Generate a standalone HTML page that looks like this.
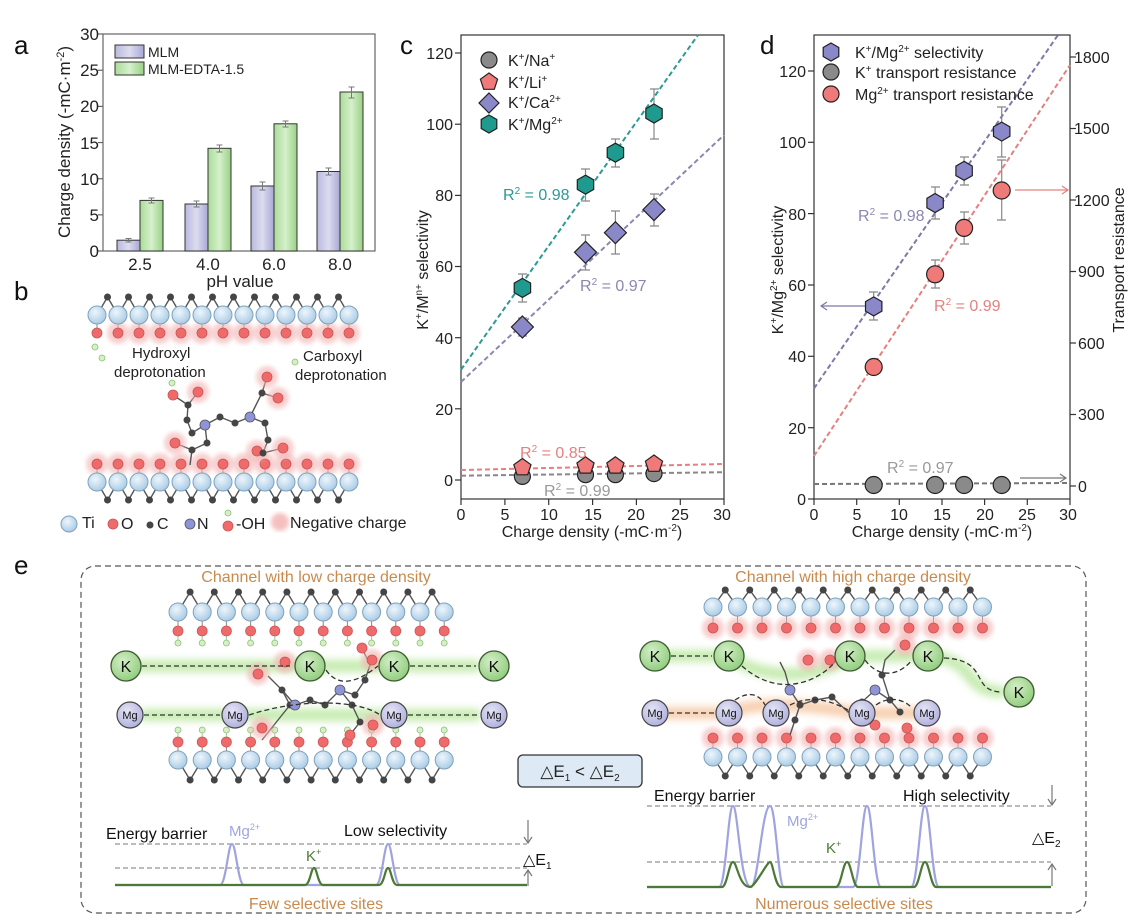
<!DOCTYPE html>
<html><head><meta charset="utf-8">
<style>
html,body{margin:0;padding:0;background:#fff;}
svg{display:block;font-family:"Liberation Sans",Arial,sans-serif;}
.t{font-size:16px;fill:#222}
.tk{font-size:17px;fill:#222}
.lab{font-size:26px;fill:#111}
</style></head>
<body>
<svg id="s" width="1130" height="924" viewBox="0 0 1130 924" xmlns="http://www.w3.org/2000/svg">
<defs>
<linearGradient id="gp" x1="0" x2="1"><stop offset="0" stop-color="#b9b9de"/><stop offset="0.5" stop-color="#dcdcf0"/><stop offset="1" stop-color="#a8a8d4"/></linearGradient>
<linearGradient id="gg" x1="0" x2="1"><stop offset="0" stop-color="#a9dc98"/><stop offset="0.5" stop-color="#d6f0cc"/><stop offset="1" stop-color="#98d184"/></linearGradient>
<radialGradient id="ti" cx="0.4" cy="0.35" r="0.7"><stop offset="0" stop-color="#eef6fc"/><stop offset="1" stop-color="#a6c9e4"/></radialGradient>
<radialGradient id="kg" cx="0.4" cy="0.35" r="0.7"><stop offset="0" stop-color="#d3efc6"/><stop offset="1" stop-color="#8fcb7c"/></radialGradient>
<radialGradient id="mg" cx="0.4" cy="0.35" r="0.7"><stop offset="0" stop-color="#e4e4f6"/><stop offset="1" stop-color="#aeaedc"/></radialGradient>
<filter id="bl" x="-20%" y="-50%" width="140%" height="200%"><feGaussianBlur stdDeviation="4"/></filter>
<filter id="bl2"><feGaussianBlur stdDeviation="2"/></filter>
</defs>

<text class="lab" x="14" y="54">a</text>
<text class="lab" x="14" y="300">b</text>
<text class="lab" x="400" y="54">c</text>
<text class="lab" x="760" y="54">d</text>
<text class="lab" x="14" y="574">e</text>

<!-- ============ PANEL A ============ -->
<g id="pa">
<rect x="103" y="34" width="272" height="217" fill="none" stroke="#666" stroke-width="1.2"/>
<g stroke="#666" stroke-width="1.2">
<line x1="98" y1="251" x2="103" y2="251"/><line x1="98" y1="214.85" x2="103" y2="214.85"/><line x1="98" y1="178.7" x2="103" y2="178.7"/><line x1="98" y1="142.55" x2="103" y2="142.55"/><line x1="98" y1="106.4" x2="103" y2="106.4"/><line x1="98" y1="70.25" x2="103" y2="70.25"/><line x1="98" y1="34" x2="103" y2="34"/>
</g>
<g class="tk" text-anchor="end">
<text x="99" y="257">0</text><text x="99" y="221">5</text><text x="99" y="185">10</text><text x="99" y="149">15</text><text x="99" y="112">20</text><text x="99" y="76">25</text><text x="99" y="40">30</text>
</g>
<g stroke="#333" stroke-width="1">
<rect x="117" y="240.2" width="23" height="10.8" fill="url(#gp)"/>
<rect x="140" y="200.4" width="23" height="50.6" fill="url(#gg)"/>
<rect x="185" y="204" width="23" height="47" fill="url(#gp)"/>
<rect x="208" y="148.3" width="23" height="102.7" fill="url(#gg)"/>
<rect x="251" y="186" width="23" height="65" fill="url(#gp)"/>
<rect x="274" y="123.8" width="23" height="127.2" fill="url(#gg)"/>
<rect x="317" y="171.5" width="23" height="79.5" fill="url(#gp)"/>
<rect x="340" y="92" width="23" height="159" fill="url(#gg)"/>
</g>
<g stroke="#777" stroke-width="1" fill="none">
<path d="M128.5 238.5v3.5M125.5 238.5h6M125.5 242h6"/>
<path d="M151.5 198v5M148.5 198h6M148.5 203h6"/>
<path d="M196.5 201v6M193.5 201h6M193.5 207h6"/>
<path d="M219.5 145v7M216.5 145h6M216.5 152h6"/>
<path d="M262.5 182v8M259.5 182h6M259.5 190h6"/>
<path d="M285.5 121v6M282.5 121h6M282.5 127h6"/>
<path d="M328.5 168v7M325.5 168h6M325.5 175h6"/>
<path d="M351.5 87v11M348.5 87h6M348.5 98h6"/>
</g>
<rect x="115" y="45" width="29" height="13" fill="url(#gp)" stroke="#333"/>
<rect x="115" y="62" width="29" height="13" fill="url(#gg)" stroke="#333"/>
<text x="148" y="57" style="font-size:14px" fill="#222">MLM</text>
<text x="148" y="74" style="font-size:14px" fill="#222">MLM-EDTA-1.5</text>
<g class="tk" text-anchor="middle">
<text x="140" y="270">2.5</text><text x="208" y="270">4.0</text><text x="274" y="270">6.0</text><text x="340" y="270">8.0</text>
<text x="240" y="287">pH value</text>
</g>
<text class="tk" transform="translate(70,142) rotate(-90)" text-anchor="middle">Charge density (-mC·m<tspan dy="-6" font-size="11">-2</tspan><tspan dy="6">)</tspan></text>
</g>

<!-- ============ PANEL B ============ -->
<g id="pb"></g>
<g font-size="15" fill="#222">
<text x="132" y="358">Hydroxyl</text>
<text x="114" y="377">deprotonation</text>
<text x="303" y="361">Carboxyl</text>
<text x="295" y="380">deprotonation</text>
<text x="82" y="528" font-size="16">Ti</text>
<text x="121" y="529" font-size="16">O</text>
<text x="157" y="529" font-size="16">C</text>
<text x="197" y="529" font-size="16">N</text>
<text x="236" y="529" font-size="16">-OH</text>
<text x="290" y="528" font-size="16">Negative charge</text>
</g>

<!-- ============ PANEL C ============ -->
<g id="pc">
<rect x="461" y="35" width="263" height="464" fill="none" stroke="#333" stroke-width="1.2"/>
<g stroke="#333" stroke-width="1.2">
<line x1="461" y1="499" x2="461" y2="505"/><line x1="504.9" y1="499" x2="504.9" y2="505"/><line x1="548.7" y1="499" x2="548.7" y2="505"/><line x1="592.6" y1="499" x2="592.6" y2="505"/><line x1="636.4" y1="499" x2="636.4" y2="505"/><line x1="680.3" y1="499" x2="680.3" y2="505"/><line x1="724" y1="499" x2="724" y2="505"/>
<line x1="455" y1="480" x2="461" y2="480"/><line x1="455" y1="408.8" x2="461" y2="408.8"/><line x1="455" y1="337.7" x2="461" y2="337.7"/><line x1="455" y1="266.5" x2="461" y2="266.5"/><line x1="455" y1="195.4" x2="461" y2="195.4"/><line x1="455" y1="124.2" x2="461" y2="124.2"/><line x1="455" y1="53" x2="461" y2="53"/>
</g>
<g class="t" text-anchor="end">
<text x="453" y="486">0</text><text x="453" y="415">20</text><text x="453" y="344">40</text><text x="453" y="272">60</text><text x="453" y="201">80</text><text x="453" y="130">100</text><text x="453" y="59">120</text>
</g>
<g class="t" text-anchor="middle">
<text x="461" y="520">0</text><text x="505" y="520">5</text><text x="549" y="520">10</text><text x="593" y="520">15</text><text x="636" y="520">20</text><text x="680" y="520">25</text><text x="722" y="520">30</text>
<text x="592" y="537">Charge density (-mC·m<tspan dy="-6" font-size="10">-2</tspan><tspan dy="6">)</tspan></text>
</g>
<text class="t" transform="translate(428,270) rotate(-90)" text-anchor="middle">K<tspan dy="-6" font-size="10">+</tspan><tspan dy="6">/M</tspan><tspan dy="-6" font-size="10">n+</tspan><tspan dy="6"> selectivity</tspan></text>
<g fill="none" stroke-dasharray="5,3" stroke-width="2">
<line x1="461" y1="369.7" x2="698" y2="35" stroke="#2c9a96"/>
<line x1="461" y1="382" x2="724" y2="135" stroke="#8a88b0"/>
<line x1="461" y1="470" x2="724" y2="464" stroke="#e58080"/>
<line x1="461" y1="475.7" x2="724" y2="472.2" stroke="#888"/>
</g>
<g stroke="#888" stroke-width="1.2" fill="none">
<path d="M522.4 274v28M518 274h9M518 302h9"/>
<path d="M585.5 169v32M581 169h9M581 201h9"/>
<path d="M615.4 139v28M611 139h9M611 167h9"/>
<path d="M654 89v50M650 89h9M650 139h9"/>
<path d="M522.4 318v18M518 318h9M518 336h9"/>
<path d="M585.5 235v35M581 235h9M581 270h9"/>
<path d="M615.4 211v43M611 211h9M611 254h9"/>
<path d="M654 194v32M650 194h9M650 226h9"/>
</g>
<g id="cm"></g>
<g font-size="16">
<text x="503" y="200" fill="#2c9a96">R<tspan dy="-6" font-size="10">2</tspan><tspan dy="6"> = 0.98</tspan></text>
<text x="580" y="291" fill="#8a88b0">R<tspan dy="-6" font-size="10">2</tspan><tspan dy="6"> = 0.97</tspan></text>
<text x="520" y="458" fill="#e58080">R<tspan dy="-6" font-size="10">2</tspan><tspan dy="6"> = 0.85</tspan></text>
<text x="544" y="496" fill="#999">R<tspan dy="-6" font-size="10">2</tspan><tspan dy="6"> = 0.99</tspan></text>
</g>
<g class="t">
<text x="508" y="66">K<tspan dy="-6" font-size="10">+</tspan><tspan dy="6">/Na</tspan><tspan dy="-6" font-size="10">+</tspan></text>
<text x="508" y="88">K<tspan dy="-6" font-size="10">+</tspan><tspan dy="6">/Li</tspan><tspan dy="-6" font-size="10">+</tspan></text>
<text x="508" y="108">K<tspan dy="-6" font-size="10">+</tspan><tspan dy="6">/Ca</tspan><tspan dy="-6" font-size="10">2+</tspan></text>
<text x="508" y="130">K<tspan dy="-6" font-size="10">+</tspan><tspan dy="6">/Mg</tspan><tspan dy="-6" font-size="10">2+</tspan></text>
</g>
</g>

<!-- ============ PANEL D ============ -->
<g id="pd">
<rect x="814" y="35" width="256" height="464" fill="none" stroke="#333" stroke-width="1.2"/>
<g stroke="#333" stroke-width="1.2">
<line x1="814" y1="499" x2="814" y2="505"/><line x1="856.7" y1="499" x2="856.7" y2="505"/><line x1="899.3" y1="499" x2="899.3" y2="505"/><line x1="942" y1="499" x2="942" y2="505"/><line x1="984.6" y1="499" x2="984.6" y2="505"/><line x1="1027.3" y1="499" x2="1027.3" y2="505"/><line x1="1070" y1="499" x2="1070" y2="505"/>
<line x1="808" y1="499" x2="814" y2="499"/><line x1="808" y1="427.7" x2="814" y2="427.7"/><line x1="808" y1="356.3" x2="814" y2="356.3"/><line x1="808" y1="285" x2="814" y2="285"/><line x1="808" y1="213.6" x2="814" y2="213.6"/><line x1="808" y1="142.3" x2="814" y2="142.3"/><line x1="808" y1="71" x2="814" y2="71"/>
<line x1="1070" y1="486" x2="1076" y2="486"/><line x1="1070" y1="414.5" x2="1076" y2="414.5"/><line x1="1070" y1="343" x2="1076" y2="343"/><line x1="1070" y1="271.5" x2="1076" y2="271.5"/><line x1="1070" y1="200" x2="1076" y2="200"/><line x1="1070" y1="128.5" x2="1076" y2="128.5"/><line x1="1070" y1="57" x2="1076" y2="57"/>
</g>
<g class="t" text-anchor="end">
<text x="806" y="505">0</text><text x="806" y="434">20</text><text x="806" y="362">40</text><text x="806" y="291">60</text><text x="806" y="220">80</text><text x="806" y="148">100</text><text x="806" y="77">120</text>
</g>
<g class="t">
<text x="1078" y="492">0</text><text x="1078" y="420">300</text><text x="1078" y="349">600</text><text x="1078" y="277">900</text><text x="1074" y="206">1200</text><text x="1074" y="134">1500</text><text x="1074" y="63">1800</text>
</g>
<g class="t" text-anchor="middle">
<text x="814" y="520">0</text><text x="857" y="520">5</text><text x="899" y="520">10</text><text x="942" y="520">15</text><text x="985" y="520">20</text><text x="1027" y="520">25</text><text x="1068" y="520">30</text>
<text x="942" y="537">Charge density (-mC·m<tspan dy="-6" font-size="10">-2</tspan><tspan dy="6">)</tspan></text>
</g>
<text class="t" transform="translate(783,270) rotate(-90)" text-anchor="middle">K<tspan dy="-6" font-size="10">+</tspan><tspan dy="6">/Mg</tspan><tspan dy="-6" font-size="10">2+</tspan><tspan dy="6"> selectivity</tspan></text>
<text class="t" transform="translate(1124,260) rotate(-90)" text-anchor="middle">Transport resistance</text>
<g fill="none" stroke-dasharray="5,3" stroke-width="2">
<line x1="814" y1="388.4" x2="1058" y2="35" stroke="#7c7aa8"/>
<line x1="814" y1="456" x2="1070" y2="65" stroke="#e58080"/>
<line x1="814" y1="484" x2="1070" y2="483" stroke="#777"/>
</g>
<g stroke="#888" stroke-width="1.2" fill="none">
<path d="M873.7 292v28M869 292h9M869 320h9"/>
<path d="M935.1 187v32M931 187h9M931 219h9"/>
<path d="M964.1 157v28M960 157h9M960 185h9"/>
<path d="M1001.7 107v50M997 107h9M997 157h9"/>
<path d="M873.7 360v14M869 360h9M869 374h9"/>
<path d="M935.1 260v28M931 260h9M931 288h9"/>
<path d="M964.1 212v32M960 212h9M960 244h9"/>
<path d="M1001.7 160v60M997 160h9M997 220h9"/>
</g>
<g stroke-width="1.2" fill="none">
<path d="M873 306H821M827 302l-6 4 6 4" stroke="#7c7aa8"/>
<path d="M1015 190H1068M1062 186l6 4-6 4" stroke="#e58080"/>
<path d="M1020 478H1066M1060 474l6 4-6 4" stroke="#777"/>
</g>
<g id="dm"></g>
<g font-size="16">
<text x="858" y="221" fill="#8a88b0">R<tspan dy="-6" font-size="10">2</tspan><tspan dy="6"> = 0.98</tspan></text>
<text x="934" y="311" fill="#e58080">R<tspan dy="-6" font-size="10">2</tspan><tspan dy="6"> = 0.99</tspan></text>
<text x="887" y="473" fill="#999">R<tspan dy="-6" font-size="10">2</tspan><tspan dy="6"> = 0.97</tspan></text>
</g>
<g class="t">
<text x="855" y="58">K<tspan dy="-6" font-size="10">+</tspan><tspan dy="6">/Mg</tspan><tspan dy="-6" font-size="10">2+</tspan><tspan dy="6"> selectivity</tspan></text>
<text x="855" y="78">K<tspan dy="-6" font-size="10">+</tspan><tspan dy="6"> transport resistance</tspan></text>
<text x="855" y="100">Mg<tspan dy="-6" font-size="10">2+</tspan><tspan dy="6"> transport resistance</tspan></text>
</g>
</g>

<!-- ============ PANEL E ============ -->
<rect x="81" y="566" width="1005" height="347" rx="14" fill="none" stroke="#555" stroke-width="1.2" stroke-dasharray="6,4"/>
<g font-size="16" fill="#c98a4e" text-anchor="middle">
<text x="316" y="582">Channel with low charge density</text>
<text x="853" y="582">Channel with high charge density</text>
<text x="316" y="909">Few selective sites</text>
<text x="844" y="909">Numerous selective sites</text>
</g>
<g filter="url(#bl)" fill="none" stroke-width="12" opacity="0.8">
<path d="M135 666H480" stroke="#b8e69c"/>
<path d="M140 715H480" stroke="#b8e69c"/>
<path d="M660 656H729C760 680 820 680 850 656H928C980 660 960 692 1005 692" stroke="#b8e69c"/>
<path d="M660 713H729C760 700 800 705 862 713H927" stroke="#f5c39c"/>
</g>
<g id="pe"></g>
<g stroke="#333" stroke-width="1.3" fill="none" stroke-dasharray="5,3">
<path d="M142 666H290"/><path d="M326 670C340 690 360 680 378 666"/><path d="M410 666H476"/>
<path d="M144 715H220"/><path d="M249 715C300 698 360 700 380 715"/><path d="M408 715H478"/>
<path d="M671 656H712"/><path d="M742 666C780 700 820 680 835 662"/><path d="M865 660C880 680 900 675 912 660"/><path d="M944 658C990 660 970 690 1000 692"/>
<path d="M669 713H714"/><path d="M735 700C750 690 760 695 765 705"/><path d="M790 705C810 695 830 700 848 710"/><path d="M876 705C890 695 905 700 912 708"/>
</g>
<g id="ions"></g>
<g text-anchor="middle" font-size="16" fill="#111">
<text x="126" y="672">K</text><text x="310" y="672">K</text><text x="394" y="672">K</text><text x="494" y="672">K</text>
<text x="655" y="662">K</text><text x="729" y="662">K</text><text x="850" y="662">K</text><text x="928" y="662">K</text><text x="1019" y="698">K</text>
</g>
<g text-anchor="middle" font-size="11" fill="#111">
<text x="130" y="719">Mg</text><text x="235" y="719">Mg</text><text x="394" y="719">Mg</text><text x="494" y="719">Mg</text>
<text x="655" y="717">Mg</text><text x="729" y="717">Mg</text><text x="776" y="717">Mg</text><text x="862" y="717">Mg</text><text x="927" y="717">Mg</text>
</g>
<rect x="518" y="755" width="124" height="32" rx="5" fill="#dde9f5" stroke="#333" stroke-width="1.3"/>
<text x="580" y="777" text-anchor="middle" font-size="17" fill="#222">△E<tspan font-size="10" dy="4">1</tspan><tspan dy="-4"> &lt; △E</tspan><tspan font-size="10" dy="4">2</tspan></text>
<g stroke="#777" stroke-width="1" stroke-dasharray="5,3"><line x1="115" y1="844" x2="527" y2="844"/><line x1="115" y1="868" x2="527" y2="868"/>
<line x1="647" y1="806" x2="1051" y2="806"/><line x1="647" y1="862" x2="1051" y2="862"/></g>
<g fill="none" stroke-width="2.2">
<path d="M115 885H220C226 885 228 844 232 844C236 844 238 885 244 885H376C382 885 384 844 388 844C392 844 394 885 400 885H527" stroke="#9fa4e0"/>
<path d="M115 885H305C310 885 311 868 314 868C317 868 318 885 323 885H379C384 885 385 868 388 868C391 868 392 885 397 885H527" stroke="#4c7a36"/>
<path d="M647 887H719C726 887 728 806 733 806C738 806 740 887 751 887C758 887 762 806 770 806C776 806 778 887 784 887H853C860 887 862 806 867 806C872 806 874 887 881 887H911C918 887 920 806 925 806C930 806 932 887 939 887H1051" stroke="#9fa4e0"/>
<path d="M647 887H722C727 887 729 862 733 862C737 862 739 887 750 887C755 887 767 862 770 862C773 862 775 887 781 887H836C841 887 843 862 847 862C851 862 853 887 858 887H914C919 887 921 862 925 862C929 862 931 887 936 887H1051" stroke="#4c7a36"/>
</g>
<g stroke="#777" stroke-width="1.2" fill="none">
<path d="M528 820V843M524 837l4 6 4-6"/><path d="M528 886V870M524 876l4-6 4 6"/>
<path d="M1052 785V805M1048 799l4 6 4-6"/><path d="M1052 886V864M1048 870l4-6 4 6"/>
</g>
<g font-size="16" fill="#111">
<text x="106" y="839">Energy barrier</text>
<text x="344" y="836">Low selectivity</text>
<text x="654" y="801">Energy barrier</text>
<text x="903" y="801">High selectivity</text>
<text x="523" y="865">△E<tspan font-size="10" dy="4">1</tspan></text>
<text x="1032" y="843">△E<tspan font-size="10" dy="4">2</tspan></text>
</g>
<g font-size="15">
<text x="229" y="836" fill="#9fa4e0">Mg<tspan dy="-6" font-size="9">2+</tspan></text>
<text x="306" y="861" fill="#4c7a36">K<tspan dy="-6" font-size="9">+</tspan></text>
<text x="787" y="826" fill="#9fa4e0">Mg<tspan dy="-6" font-size="9">2+</tspan></text>
<text x="826" y="853" fill="#4c7a36">K<tspan dy="-6" font-size="9">+</tspan></text>
</g>
</svg>
<script>
var NS="http://www.w3.org/2000/svg";
function el(g,tag,a){var e=document.createElementNS(NS,tag);for(var k in a)e.setAttribute(k,a[k]);g.appendChild(e);return e;}
function G(id){return document.getElementById(id);}
function ti(g,x,y,r){el(g,"circle",{cx:x,cy:y,r:r||9,fill:"url(#ti)",stroke:"#7fa2bd","stroke-width":1});}
function ox(g,x,y,halo,r){if(halo)el(g,"circle",{cx:x,cy:y,r:11,fill:"#f3b0b0",opacity:0.6,filter:"url(#bl2)"});el(g,"circle",{cx:x,cy:y,r:r||5,fill:"#ef6b6b",stroke:"#c55","stroke-width":0.8});}
function cc(g,x,y){el(g,"circle",{cx:x,cy:y,r:3.5,fill:"#454545"});}
function hh(g,x,y){el(g,"circle",{cx:x,cy:y,r:3,fill:"#d6efc4",stroke:"#8cbf7a","stroke-width":0.8});}
function nn(g,x,y){el(g,"circle",{cx:x,cy:y,r:5,fill:"#8e94d8",stroke:"#555","stroke-width":0.8});}
function ln(g,p){el(g,"polyline",{points:p,fill:"none",stroke:"#555","stroke-width":1.4});}
function sheet(g,x0,dx,n,tiY,cY,oY,hY,halo,firstNoHalo){
  var pts=[];for(var i=0;i<n;i++){pts.push((x0+i*dx)+","+tiY);if(i<n-1)pts.push((x0+i*dx+dx/2)+","+cY);}
  ln(g,pts.join(" "));
  for(var i=0;i<n;i++){var x=x0+i*dx;el(g,"line",{x1:x,y1:tiY,x2:x,y2:oY,stroke:"#888","stroke-width":1});}
  for(var i=0;i<n-1;i++)cc(g,x0+i*dx+dx/2,cY);
  for(var i=0;i<n;i++){var x=x0+i*dx;if(hY!==null){el(g,"line",{x1:x,y1:oY,x2:x,y2:hY,stroke:"#9c9","stroke-width":1});}
    ox(g,x,oY,halo&&!(firstNoHalo&&i==0));if(hY!==null)hh(g,x,hY);ti(g,x,tiY);}
}
var b=G("pb");
sheet(b,97,21,13,315,297,333,null,true,true);
hh(b,95,347);hh(b,102,358);
sheet(b,97,21,13,482,500,464,null,true,false);
var mol=[[173,395],[188,405],[187,420],[192,433],[205,425],[220,417],[235,423],[250,417],[265,423],[268,440],[263,453]];
ln(b,mol.map(function(p){return p.join(",")}).join(" "));
ln(b,"198,392 188,405");ln(b,"205,425 207,443 192,450 175,443");ln(b,"192,450 190,465");
ln(b,"250,417 262,393 267,377");ln(b,"262,393 278,398");ln(b,"263,453 283,448");
ox(b,173,395,false);hh(b,172,383);ox(b,198,392,true);ox(b,175,443,true);ox(b,267,377,true);ox(b,278,398,true);ox(b,257,451,true);ox(b,283,448,true);
[[188,405],[187,420],[192,433],[220,417],[235,423],[265,423],[268,440],[263,453],[207,443],[192,450],[262,393]].forEach(function(p){cc(b,p[0],p[1]);});
nn(b,205,425);nn(b,250,417);hh(b,295,362);
ti(b,69,524,8);ox(b,113,524,false);cc(b,150,525);nn(b,190,524);ox(b,228,526,false);hh(b,228,513);
el(b,"circle",{cx:280,cy:522,r:9,fill:"#f3b0b0",opacity:0.8,filter:"url(#bl2)"});
function poly(g,cx,cy,r,n,rot,fill){var p=[];for(var i=0;i<n;i++){var a=(rot+i*360/n)*Math.PI/180;p.push((cx+r*Math.cos(a)).toFixed(1)+","+(cy+r*Math.sin(a)).toFixed(1));}
 el(g,"polygon",{points:p.join(" "),fill:fill,stroke:"#222","stroke-width":1.2});}
function circ(g,x,y,r,f){el(g,"circle",{cx:x,cy:y,r:r,fill:f,stroke:"#222","stroke-width":1.2});}
var c=G("cm");var X=[522.4,585.5,615.4,654];
[476.4,474.7,474.7,473.6].forEach(function(y,i){circ(c,X[i],y,8,"#8a8a8a");});
[467.5,465.8,465.8,464].forEach(function(y,i){poly(c,X[i],y,9,5,-90,"#f07a7a");});
[327,252.3,232.7,209.6].forEach(function(y,i){poly(c,X[i],y,11,4,-90,"#8a88c8");});
[287.9,184.7,152.7,113.5].forEach(function(y,i){poly(c,X[i],y,9.5,6,-90,"#1e9a8e");});
circ(c,489,60,8,"#8a8a8a");poly(c,489,82,9,5,-90,"#f07a7a");poly(c,489,103,10,4,-90,"#8a88c8");poly(c,489,124,9,6,-90,"#1e9a8e");
var d=G("dm");var XD=[873.7,935.1,964.1,1001.7];
[485,485,485,485].forEach(function(y,i){circ(d,XD[i],y,8.5,"#8a8a8a");});
[367,274.3,227.9,190.5].forEach(function(y,i){circ(d,XD[i],y,8.5,"#f07a7a");});
[306.4,203,170.8,131.6].forEach(function(y,i){poly(d,XD[i],y,9.5,6,-90,"#8a88c8");});
poly(d,831,52,9,6,-90,"#8a88c8");circ(d,831,72,8,"#8a8a8a");circ(d,831,94,8,"#f07a7a");
var e=G("pe");
sheet(e,178,24.2,12,612,592,631,643,false);
sheet(e,178,24.2,12,760,780,742,730,false);
sheet(e,713,24.5,12,607,590,628,null,true);
sheet(e,713,24.5,12,757,776,738,null,true);
ln(e,"268,676 282,690 290,705 278,720 262,740");ln(e,"282,690 295,705 310,700 325,705 340,690 355,695 365,680 370,665 362,648");
ln(e,"340,690 352,705 360,722 350,735");
ox(e,258,674,true);ox(e,285,662,true);ox(e,262,728,true);ox(e,372,660,true);ox(e,362,648,false);ox(e,373,725,true);ox(e,350,735,false);
[[282,690],[290,705],[310,700],[325,705],[355,695],[365,680],[352,705],[360,722]].forEach(function(p){cc(e,p[0],p[1]);});
nn(e,295,705);nn(e,340,690);
ln(e,"790,690 800,705 815,700 832,697 848,712 862,702 875,690 890,700 900,712");
ln(e,"800,705 795,720 790,735");ln(e,"790,690 785,672 780,662");ln(e,"890,700 882,675 885,660 895,650");
[[800,705],[815,700],[832,697],[862,702],[890,700],[900,712],[795,720],[882,675]].forEach(function(p){cc(e,p[0],p[1]);});
nn(e,790,690);nn(e,875,690);
ox(e,775,718,false);ox(e,808,660,true);ox(e,830,660,true);ox(e,905,645,true);ox(e,875,725,false);ox(e,907,728,false);
var io=G("ions");
function K(x,y){el(io,"circle",{cx:x,cy:y,r:15,fill:"url(#kg)",stroke:"#3c5a32","stroke-width":1.3});}
function M(x,y){el(io,"circle",{cx:x,cy:y,r:13,fill:"url(#mg)",stroke:"#444","stroke-width":1.2});}
[[126,666],[310,666],[394,666],[494,666],[655,656],[729,656],[850,656],[928,656],[1019,692]].forEach(function(p){K(p[0],p[1]);});
[[130,715],[235,715],[394,715],[494,715],[655,713],[729,713],[776,713],[862,713],[927,713]].forEach(function(p){M(p[0],p[1]);});
</script>
</body></html>
